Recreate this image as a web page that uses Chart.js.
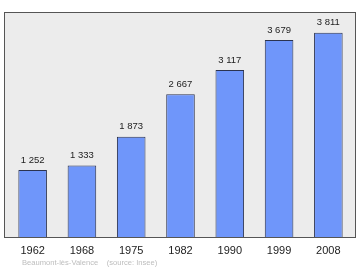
<!DOCTYPE html>
<html>
<head>
<meta charset="utf-8">
<script src="https://cdn.jsdelivr.net/npm/chart.js@4"></script>
<style>
  html, body { margin: 0; padding: 0; background: #fff; }
  #wrap { width: 360px; height: 270px; position: relative; }
</style>
</head>
<body>
<div id="wrap"><canvas id="popChart" width="360" height="270"></canvas></div>
<script>
// population by census year
const years = ['1962', '1968', '1975', '1982', '1990', '1999', '2008'];
const population = [1252, 1333, 1873, 2667, 3117, 3679, 3811];
const footerText = 'Beaumont-lès-Valence    (source: Insee)';

const FONT = '"Liberation Sans", Arial, sans-serif';

function fmt(n) {
  return String(n).replace(/\B(?=(\d{3})+(?!\d))/g, ' ');
}

// frame + grey background behind the bars, value labels and footer on top
const framePlugin = {
  id: 'frame',
  beforeDraw(chart) {
    const { ctx, chartArea } = chart;
    const l = chartArea.left - 4, r = chartArea.right + 3;
    const t = chartArea.top, b = chartArea.bottom;
    ctx.save();
    ctx.fillStyle = '#ececec';
    ctx.fillRect(l, t, r - l, b - t);
    ctx.strokeStyle = '#555';
    ctx.lineWidth = 1;
    ctx.strokeRect(l + 0.5, t + 0.5, r - l - 1, b - t);
    ctx.restore();
  },
  afterDraw(chart) {
    const { ctx } = chart;
    const meta = chart.getDatasetMeta(0);
    ctx.save();
    ctx.font = '9.5px ' + FONT;
    ctx.fillStyle = '#222';
    ctx.textAlign = 'center';
    ctx.textBaseline = 'middle';
    meta.data.forEach((bar, i) => {
      ctx.fillText(fmt(population[i]), bar.x, bar.y - 10);
    });
    ctx.font = '7.6px ' + FONT;
    ctx.fillStyle = '#bdbdbd';
    ctx.textAlign = 'left';
    ctx.fillText(footerText, 22, 263);
    ctx.restore();
  }
};

new Chart(document.getElementById('popChart'), {
  type: 'bar',
  data: {
    labels: years,
    datasets: [{
      data: population,
      backgroundColor: '#6f96fa',
      borderColor: '#2b3350',
      borderWidth: 1,
      categoryPercentage: 1,
      barPercentage: 0.58
    }]
  },
  options: {
    responsive: false,
    animation: false,
    layout: { padding: { left: 8, right: 7, top: 12, bottom: 0 } },
    plugins: { legend: { display: false }, tooltip: { enabled: false } },
    scales: {
      x: {
        grid: { display: false, drawTicks: false },
        border: { display: false },
        ticks: {
          color: '#222',
          font: { family: FONT, size: 11 },
          padding: 7,
          maxRotation: 0
        },
        afterFit(scale) { scale.height = 33; }
      },
      y: {
        display: false,
        min: 0,
        max: 4200
      }
    }
  },
  plugins: [framePlugin]
});
</script>
</body>
</html>
